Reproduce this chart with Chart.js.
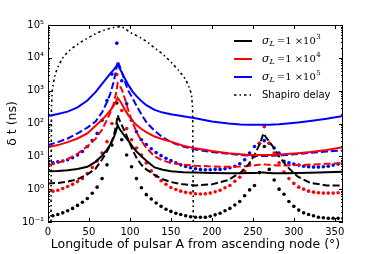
<!DOCTYPE html>
<html>
<head>
<meta charset="utf-8">
<script src="https://cdn.jsdelivr.net/npm/chart.js@4.4.0/dist/chart.umd.min.js"></script>
<style>
html, body { margin: 0; padding: 0; background: #fff; }
#wrap { width: 382px; height: 254px; }
</style>
</head>
<body>
<div id="wrap"><canvas id="myChart"></canvas></div>
<script>
// longitude grids (deg)
var lonLine = [0, 12, 24, 36, 48, 58, 66, 72, 76, 80, 83, 85, 87, 90, 94, 98, 103, 108, 114, 120, 130, 140, 150, 165, 180, 200, 220, 235, 245, 252, 257, 260, 263, 266, 270, 275, 282, 292, 305, 320, 340, 360];
var lonDot = [0, 6, 12, 18, 24, 30, 36, 42, 48, 54, 60, 66, 72, 78, 84, 90, 96, 102, 108, 114, 120, 126, 132, 138, 144, 150, 156, 162, 168, 174, 180, 186, 192, 198, 204, 210, 216, 222, 228, 234, 240, 246, 252, 258, 264, 270, 276, 282, 288, 294, 300, 306, 312, 318, 324, 330, 336, 342, 348, 354, 360];

// solid lines (ns)
var solid1e3 = [3.5, 3.6, 3.8, 4.1, 4.8, 6.8, 10.5, 16, 23, 36, 58, 90, 70, 55, 40, 30, 20, 14, 10, 7.3, 4.6, 3.9, 3.5, 3.3, 3.2, 3.1, 3.05, 3.05, 3.1, 3.1, 3.15, 3.2, 3.2, 3.15, 3.1, 3.05, 3.05, 3.05, 3.1, 3.15, 3.25, 3.4];
var solid1e4 = [19, 22, 27, 35, 50, 85, 130, 190, 250, 340, 470, 600, 520, 400, 260, 180, 120, 90, 68, 55, 40, 33, 28, 21, 17.5, 14.5, 12.5, 11.5, 11, 11, 11, 11, 11, 11, 11, 11, 11.3, 11.8, 12.5, 13.5, 15.5, 19];
var solid1e5 = [170, 195, 230, 310, 500, 900, 1600, 2500, 3300, 4300, 5400, 6200, 5000, 3600, 2300, 1500, 950, 680, 480, 360, 260, 215, 190, 165, 145, 115, 100, 94, 92, 91, 91, 91, 91, 91, 92, 93, 95, 100, 108, 120, 140, 170];

// dashed lines (ns)
var dash1e3 = [1.5, 1.55, 1.7, 2.0, 2.8, 4.2, 8, 14, 22, 40, 85, 180, 130, 90, 55, 32, 16, 9, 5.5, 4, 2.7, 2.0, 1.65, 1.4, 1.3, 1.4, 1.9, 3.2, 5.8, 11, 20, 30, 50, 38, 28, 19, 10, 4.8, 2.4, 1.55, 1.3, 1.3];
var dash1e4 = [5.4, 6.2, 8.3, 12, 20, 34, 65, 130, 210, 400, 800, 1700, 1500, 1100, 550, 250, 110, 55, 30, 18, 10, 7.5, 6.3, 5.6, 5.2, 4.9, 4.8, 4.9, 5.1, 5.3, 5.5, 5.6, 5.7, 5.6, 5.5, 5.4, 5.3, 5.3, 5.4, 5.6, 5.9, 6.2];
var dash1e5 = [22, 27, 35, 50, 75, 115, 220, 450, 800, 1800, 4000, 8000, 6000, 3800, 1800, 1000, 600, 350, 190, 110, 60, 38, 27, 20, 16, 13.5, 12, 11, 10.5, 10.3, 10.2, 10.2, 10.2, 10.2, 10.3, 10.4, 10.6, 11, 11.8, 12.8, 14, 15];

// dotted (markers) (ns)
var dot1e3 = [0.14, 0.155, 0.17, 0.19, 0.22, 0.26, 0.32, 0.4, 0.52, 0.75, 1.15, 2.1, 5.5, 22, 420, 32, 11, 4.8, 2.1, 1.1, 0.68, 0.5, 0.38, 0.3, 0.245, 0.21, 0.185, 0.17, 0.155, 0.145, 0.14, 0.14, 0.14, 0.15, 0.165, 0.185, 0.22, 0.26, 0.33, 0.42, 0.63, 0.95, 1.3, 3.2, 20, 4, 1.9, 1.0, 0.7, 0.42, 0.3, 0.23, 0.19, 0.17, 0.155, 0.14, 0.135, 0.13, 0.13, 0.13, 0.13];
var dot1e4 = [0.83, 0.87, 0.93, 1.05, 1.2, 1.4, 1.7, 2.1, 3, 4.6, 7.2, 12.6, 28, 100, 3100, 250, 70, 32, 18, 11, 6.3, 3.6, 2.5, 1.8, 1.4, 1.12, 0.98, 0.87, 0.8, 0.76, 0.72, 0.71, 0.72, 0.76, 0.83, 0.93, 1.1, 1.3, 1.75, 2.3, 3.5, 5.6, 10, 25, 80, 25, 12.6, 6.3, 3.3, 2.1, 1.5, 1.15, 1.0, 0.87, 0.81, 0.78, 0.76, 0.76, 0.76, 0.78, 0.81];
var dot1e5 = [6.2, 6.3, 6.8, 7.2, 7.9, 9.1, 11, 14, 20, 30, 50, 125, 500, 3200, 28000, 2000, 400, 125, 56, 32, 23, 17, 13, 10.5, 8.7, 7.4, 6.3, 5.5, 4.9, 4.5, 4.2, 4.0, 3.9, 3.9, 4.0, 4.0, 4.2, 4.5, 5.0, 5.9, 7.9, 12.6, 20, 25, 30, 25, 18, 12.6, 7, 6.3, 5.8, 5.4, 5.0, 4.8, 4.7, 4.7, 4.8, 5.0, 5.4, 5.8, 6.2];

// Shapiro delay (ns)
var lonShapiro = [3.6, 4.2, 5, 6.5, 9, 12, 18, 24, 30, 40, 50, 60, 70, 80, 90, 100, 110, 120, 130, 140, 150, 160, 168, 172, 175, 176.5, 177.4];
var shapiro = [0.05, 300, 900, 1700, 3300, 5200, 10000, 15000, 20000, 30000, 42000, 58000, 72000, 84000, 90000, 60000, 45000, 32000, 20000, 13000, 7500, 4000, 2200, 1300, 800, 300, 0.05];

var xTicks = [0, 50, 100, 150, 200, 250, 300, 350];
var yTicks = [0.1, 1, 10, 100, 1000, 10000, 100000];
var yTickLabels = ['10\u207B\u00B9', '10\u2070', '10\u00B9', '10\u00B2', '10\u00B3', '10\u2074', '10\u2075'];
var sigmaExp = ['3', '4', '5'];
var colors = ['#000000', '#ff0000', '#0000ff'];
var shapiroDash = [2.5, 3, 1.5, 3];

function pts(xs, ys) {
  var out = [];
  for (var i = 0; i < xs.length; i++) out.push({x: xs[i], y: ys[i]});
  return out;
}

var solids = [solid1e3, solid1e4, solid1e5];
var dashes = [dash1e3, dash1e4, dash1e5];
var dots = [dot1e3, dot1e4, dot1e5];
var datasets = [];
for (var k = 0; k < 3; k++) {
  datasets.push({data: pts(lonLine, solids[k]), borderColor: colors[k], borderWidth: 2, pointRadius: 0, fill: false});
}
for (var k = 0; k < 3; k++) {
  datasets.push({data: pts(lonLine, dashes[k]), borderColor: colors[k], borderWidth: 2, borderDash: [7, 3], pointRadius: 0, fill: false});
}
for (var k = 0; k < 3; k++) {
  datasets.push({data: pts(lonDot, dots[k]), showLine: false, pointRadius: 1.8, pointBorderWidth: 0, pointBackgroundColor: colors[k], borderColor: colors[k]});
}
datasets.push({data: pts(lonShapiro, shapiro), borderColor: '#000', borderWidth: 1.6, borderDash: shapiroDash, pointRadius: 0, fill: false});

var frameAndLegend = {
  id: 'frameAndLegend',
  afterDraw: function (chart) {
    var ctx = chart.ctx, a = chart.chartArea;
    var xs = chart.scales.x, ys = chart.scales.y;
    ctx.save();
    ctx.strokeStyle = '#000';
    ctx.lineWidth = 1;
    ctx.strokeRect(a.left + 0.5, a.top + 0.5, a.right - a.left - 1, a.bottom - a.top - 1);
    ctx.beginPath();
    xTicks.forEach(function (v) {
      var px = Math.round(xs.getPixelForValue(v)) + 0.5;
      ctx.moveTo(px, a.bottom); ctx.lineTo(px, a.bottom - 4);
      ctx.moveTo(px, a.top); ctx.lineTo(px, a.top + 4);
    });
    yTicks.forEach(function (v, i) {
      var py = Math.round(ys.getPixelForValue(v)) + 0.5;
      ctx.moveTo(a.left, py); ctx.lineTo(a.left + 4, py);
      ctx.moveTo(a.right, py); ctx.lineTo(a.right - 4, py);
      if (i < yTicks.length - 1) {
        for (var m = 2; m < 10; m++) {
          var q = Math.round(ys.getPixelForValue(v * m)) + 0.5;
          ctx.moveTo(a.left, q); ctx.lineTo(a.left + 2, q);
          ctx.moveTo(a.right, q); ctx.lineTo(a.right - 2, q);
        }
      }
    });
    ctx.stroke();

    // legend
    var rowY = [41, 59, 77, 95];
    var x0 = 234, x1 = 252, tx = 262;
    ctx.textBaseline = 'middle';
    ctx.fillStyle = '#000';
    for (var r = 0; r < 4; r++) {
      ctx.beginPath();
      if (r < 3) {
        ctx.strokeStyle = colors[r]; ctx.lineWidth = 2; ctx.setLineDash([]);
      } else {
        ctx.strokeStyle = '#000'; ctx.lineWidth = 1.6; ctx.setLineDash(shapiroDash);
      }
      ctx.moveTo(x0, rowY[r]); ctx.lineTo(x1, rowY[r]);
      ctx.stroke();
      ctx.setLineDash([]);
      var x = tx, y = rowY[r];
      if (r < 3) {
        ctx.font = 'italic 11px "DejaVu Serif"';
        ctx.fillText('\u03C3', x, y); x += ctx.measureText('\u03C3').width;
        ctx.font = 'italic 8px "DejaVu Serif"';
        ctx.fillText('L', x, y + 3); x += ctx.measureText('L').width + 2;
        ctx.font = '10px "DejaVu Serif"';
        ctx.fillText('=1 \u00D710', x, y); x += ctx.measureText('=1 \u00D710').width;
        ctx.font = '7px "DejaVu Serif"';
        ctx.fillText(sigmaExp[r], x + 0.5, y - 4);
      } else {
        ctx.font = '10px "DejaVu Sans"';
        ctx.fillText('Shapiro delay', x, y);
      }
    }
    ctx.restore();
  }
};

var ctx = document.getElementById('myChart').getContext('2d');
var chart = new Chart(ctx, {
  type: 'line',
  data: {datasets: datasets},
  options: {
    responsive: true,
    maintainAspectRatio: false,
    animation: false,
    layout: {padding: {top: 25, right: 39, left: 0, bottom: 0}},
    plugins: {legend: {display: false}, tooltip: {enabled: false}},
    scales: {
      x: {
        type: 'linear', min: 0, max: 360,
        grid: {display: false, drawTicks: false}, border: {display: false},
        afterBuildTicks: function (s) { s.ticks = xTicks.map(function (v) { return {value: v}; }); },
        afterFit: function (s) { s.height = 32; },
        ticks: {color: '#000', font: {family: 'DejaVu Sans', size: 10}, padding: 4, maxRotation: 0},
        title: {display: true, text: 'Longitude of pulsar A from ascending node (\u00B0)', color: '#000', font: {family: 'DejaVu Sans', size: 12.5}, padding: {top: 0, bottom: 2}}
      },
      y: {
        type: 'logarithmic', min: 0.1, max: 100000,
        grid: {display: false, drawTicks: false}, border: {display: false},
        afterBuildTicks: function (s) { s.ticks = yTicks.map(function (v) { return {value: v}; }); },
        afterFit: function (s) { s.width = 48; },
        ticks: {color: '#000', font: {family: 'DejaVu Sans', size: 10}, padding: 4,
          callback: function (v) { var i = yTicks.indexOf(v); return i >= 0 ? yTickLabels[i] : ''; }},
        title: {display: true, text: '\u03B4 t (ns)', color: '#000', font: {family: 'DejaVu Sans', size: 12.5}, padding: {top: 5, bottom: 0}}
      }
    }
  },
  plugins: [frameAndLegend]
});
</script>
</body>
</html>
